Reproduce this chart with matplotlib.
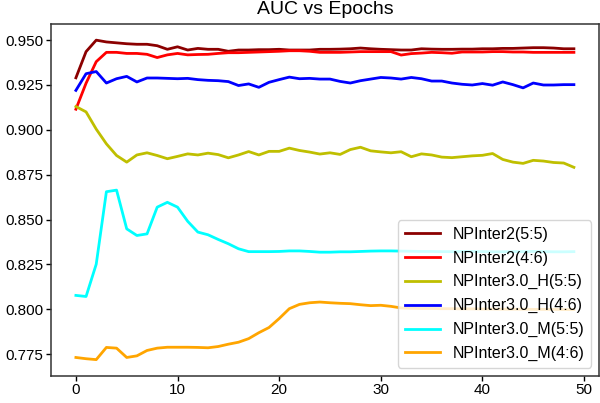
import numpy as np
import matplotlib
matplotlib.use('Agg')
import matplotlib.pyplot as plt

plt.rcParams['font.family'] = ['Liberation Sans', 'DejaVu Sans']

# AUC pro Epoche
epochs = list(range(50))

np2_55 = [0.9290, 0.9436, 0.9500, 0.9490, 0.9485, 0.9480, 0.9477, 0.9477, 0.9469, 0.9449,
          0.9463, 0.9445, 0.9454, 0.9449, 0.9449, 0.9438, 0.9445, 0.9445, 0.9447, 0.9447,
          0.9449, 0.9445, 0.9445, 0.9445, 0.9449, 0.9449, 0.9450, 0.9452, 0.9456, 0.9452,
          0.9449, 0.9447, 0.9445, 0.9445, 0.9452, 0.9450, 0.9449, 0.9449, 0.9450, 0.9450,
          0.9452, 0.9452, 0.9454, 0.9454, 0.9456, 0.9458, 0.9458, 0.9456, 0.9452, 0.9452]

np2_46 = [0.9115, 0.9260, 0.9380, 0.9432, 0.9432, 0.9426, 0.9426, 0.9421, 0.9403, 0.9418,
          0.9426, 0.9418, 0.9420, 0.9421, 0.9426, 0.9430, 0.9430, 0.9432, 0.9434, 0.9436,
          0.9438, 0.9441, 0.9441, 0.9438, 0.9432, 0.9432, 0.9432, 0.9434, 0.9436, 0.9436,
          0.9436, 0.9436, 0.9417, 0.9425, 0.9428, 0.9432, 0.9430, 0.9427, 0.9434, 0.9434,
          0.9434, 0.9436, 0.9436, 0.9434, 0.9434, 0.9432, 0.9432, 0.9432, 0.9432, 0.9432]

np3h_55 = [0.9130, 0.9100, 0.9004, 0.8922, 0.8857, 0.8820, 0.8860, 0.8872, 0.8857, 0.8839,
           0.8852, 0.8866, 0.8860, 0.8870, 0.8862, 0.8844, 0.8860, 0.8879, 0.8860, 0.8880,
           0.8880, 0.8898, 0.8885, 0.8876, 0.8865, 0.8872, 0.8863, 0.8890, 0.8903, 0.8883,
           0.8877, 0.8872, 0.8878, 0.8850, 0.8866, 0.8860, 0.8848, 0.8845, 0.8850, 0.8855,
           0.8858, 0.8868, 0.8835, 0.8820, 0.8813, 0.8830, 0.8826, 0.8818, 0.8815, 0.8791]

np3h_46 = [0.9220, 0.9313, 0.9325, 0.9261, 0.9285, 0.9298, 0.9267, 0.9289, 0.9289, 0.9287,
           0.9285, 0.9287, 0.9280, 0.9276, 0.9274, 0.9269, 0.9247, 0.9256, 0.9237, 0.9265,
           0.9280, 0.9294, 0.9285, 0.9287, 0.9283, 0.9283, 0.9270, 0.9261, 0.9274, 0.9283,
           0.9292, 0.9289, 0.9283, 0.9292, 0.9285, 0.9272, 0.9272, 0.9261, 0.9254, 0.9250,
           0.9258, 0.9249, 0.9267, 0.9252, 0.9234, 0.9261, 0.9250, 0.9250, 0.9252, 0.9252]

np3m_55 = [0.8077, 0.8071, 0.8251, 0.8655, 0.8664, 0.8448, 0.8411, 0.8420, 0.8569, 0.8596,
           0.8569, 0.8490, 0.8430, 0.8415, 0.8389, 0.8365, 0.8337, 0.8321, 0.8321, 0.8321,
           0.8322, 0.8325, 0.8325, 0.8322, 0.8318, 0.8318, 0.8320, 0.8320, 0.8322, 0.8324,
           0.8325, 0.8325, 0.8324, 0.8323, 0.8322, 0.8322, 0.8321, 0.8321, 0.8322, 0.8322,
           0.8321, 0.8320, 0.8320, 0.8321, 0.8321, 0.8322, 0.8321, 0.8320, 0.8320, 0.8321]

np3m_46 = [0.7731, 0.7724, 0.7719, 0.7787, 0.7783, 0.7731, 0.7740, 0.7770, 0.7783, 0.7788,
           0.7788, 0.7788, 0.7787, 0.7785, 0.7792, 0.7805, 0.7816, 0.7836, 0.7869, 0.7898,
           0.7948, 0.8003, 0.8027, 0.8036, 0.8040, 0.8036, 0.8033, 0.8031, 0.8025, 0.8020,
           0.8022, 0.8016, 0.8007, 0.8005, 0.8004, 0.8004, 0.8003, 0.8003, 0.8002, 0.8002,
           0.8001, 0.8001, 0.8000, 0.8000, 0.8000, 0.7999, 0.7999, 0.7999, 0.7998, 0.7998]

labels = ['NPInter2(5:5)', 'NPInter2(4:6)', 'NPInter3.0_H(5:5)',
          'NPInter3.0_H(4:6)', 'NPInter3.0_M(5:5)', 'NPInter3.0_M(4:6)']
series = [np2_55, np2_46, np3h_55, np3h_46, np3m_55, np3m_46]
colors = ['darkred', 'red', 'y', 'blue', 'cyan', 'orange']

fig = plt.figure(figsize=(6, 4.03), dpi=100)
ax = fig.add_axes([0.085, 0.068, 0.913, 0.872])

for vals, lab, col in zip(series, labels, colors):
    ax.plot(epochs, vals, color=col, label=lab, linewidth=2.0)

ax.set_title('AUC vs Epochs', fontsize=14, pad=7)
ax.set_xticks([0, 10, 20, 30, 40, 50])
ax.tick_params(labelsize=11, length=3.5, width=1, pad=2)
ax.yaxis.set_major_formatter(matplotlib.ticker.FormatStrFormatter('%.3f'))
for sp in ax.spines.values():
    sp.set_linewidth(1.1)
    sp.set_color('#333333')
ax.legend(loc='lower right', fontsize=11.5, labelspacing=0.55, handlelength=2.2)

fig.savefig('out.png', dpi=100)
